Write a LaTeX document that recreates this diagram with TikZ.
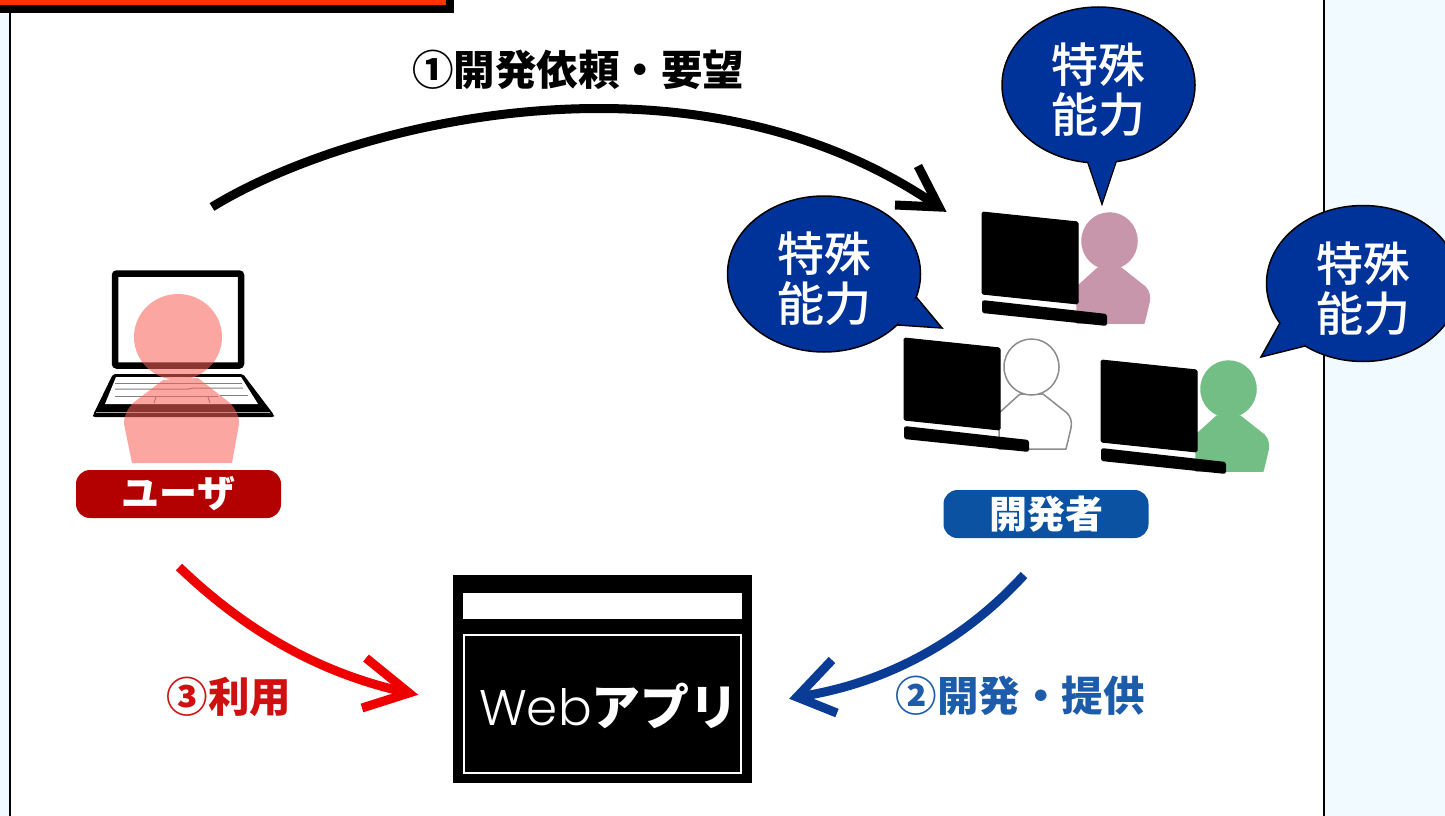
\documentclass[tikz,border=0pt]{standalone}
\usepackage{fontspec}
\usetikzlibrary{shapes.geometric}
\newfontfamily\cjk{Noto Sans CJK JP}
\newfontfamily\cjkmed{Noto Sans CJK JP Medium}
\newfontfamily\webfont{Poppins Light}
\definecolor{panelblue}{HTML}{F0FAFF}
\definecolor{bubbleblue}{HTML}{003399}
\definecolor{pillred}{HTML}{B30000}
\definecolor{pillblue}{HTML}{0B52A2}
\definecolor{barorange}{HTML}{FF3300}
\definecolor{arrowred}{HTML}{EE0000}
\definecolor{arrowblue}{HTML}{0A3C96}
\definecolor{labelred}{HTML}{D01010}
\definecolor{labelblue}{HTML}{1C5CAA}
\definecolor{personpink}{HTML}{C796AA}
\definecolor{persongreen}{HTML}{73BE85}
\definecolor{userred}{RGB}{250,98,90}
\tikzset{
  bubble/.style={ellipse,draw=black,fill=bubbleblue,line width=1.5pt,minimum width=193pt,minimum height=156pt,inner sep=0pt},
  bubbletext/.style={inner sep=0pt,text=white,align=center,font=\cjkmed\fontsize{47}{50}\selectfont},
  tailstroke/.style={draw=black,fill=bubbleblue,line width=1.5pt,line join=miter},
  tailfill/.style={fill=bubbleblue},
  pill/.style={rounded corners=14pt,minimum width=205pt,minimum height=48pt,inner sep=0pt,text=white,font=\cjk\bfseries\fontsize{38}{38}\selectfont},
  flow/.style={line width=9pt,line join=miter},
  caption/.style={inner sep=0pt,font=\cjk\bfseries\fontsize{41.5}{41.5}\selectfont},
  monitor/.style={fill=black,draw=black,line width=1pt,line join=round,rounded corners=1.5pt},
  kbd/.style={fill=black,rounded corners=2.5pt},
  keyline/.style={draw=black!50,line width=1pt},
}
\newcommand{\deskset}[4]{%
  \begin{scope}[shift={(#1,#2)}]
    \path[fill=#3,draw=#4,line width=1.5pt,line join=round]
      (95,75) -- (116,56) -- (139,56) -- (163,75)
      .. controls (167,79) and (168,84) .. (167,90) -- (162,111) -- (95,111) -- cycle;
    \path[fill=#3,draw=#4,line width=1.5pt] (127.5,29) ellipse[x radius=27.5,y radius=28];
    \path[monitor] (0,0) -- (96,10) -- (96,92) -- (0,82) -- cycle;
    \path[kbd] (0,88) -- (125,102) -- (125,114) -- (0,101) -- cycle;
  \end{scope}}
\begin{document}
\begin{tikzpicture}[x=1pt,y=-1pt]
\useasboundingbox (0,0) rectangle (1445,816);
\fill[white] (0,0) rectangle (1445,816);
% side panels and frame
\fill[panelblue] (0,0) rectangle (10,816);
\fill[panelblue] (1324,0) rectangle (1445,816);
\draw[black,line width=2pt] (10,13) -- (10,816);
\draw[black,line width=2pt] (1324,0) -- (1324,816);
\fill[black] (0,0) rectangle (454,13);
\fill[barorange] (0,0) rectangle (446,5);
% user: laptop
\draw[black,line width=6.5pt,rounded corners=2pt,fill=white] (115,273.5) rectangle (241,365.5);
\fill[black,rounded corners=2pt] (113,374) -- (243,374) -- (274,415) -- (274,417) -- (93,417) -- (93,415) -- cycle;
\fill[white] (116,377) -- (241,377) -- (258,404) -- (105,404) -- cycle;
\draw[keyline] (115,383) -- (242,383);
\draw[keyline] (115,389) -- (188,389) -- (194,388) -- (243,388);
\draw[keyline] (115,396) -- (218,396) (220,395) -- (248,395);
\draw[keyline] (156,397) -- (154,403) (208,397) -- (210,403);
\draw[black!35,line width=.7pt] (96,412) -- (270,412);
% user: person
\path[fill=userred,fill opacity=.56] (178,337) ellipse[x radius=44,y radius=43]
  (163,380) -- (198,378) -- (230,403) .. controls (236,410) and (239,415) .. (239,424) -- (232,463) -- (132,463) -- (124,424) .. controls (124,415) and (127,410) .. (133,403) -- cycle;
\node[pill,fill=pillred] (user) at (178.5,494) {ユーザ};
% developers
\deskset{982}{212}{personpink}{personpink}
\deskset{904}{338}{white}{black!45}
\deskset{1101}{360}{persongreen}{persongreen}
\node[pill,fill=pillblue] (dev) at (1046,514) {開発者};
% bubbles
\path[tailstroke] (1087,160) -- (1102,204) -- (1118,156) -- cycle;
\node[bubble] (b1) at (1098.5,85) {};
\path[tailfill] (1087,158) -- (1102,202) -- (1118,154) -- cycle;
\node[bubbletext] (b1t) at ([yshift=-5pt]b1.center) {特殊\\能力};
\path[tailstroke] (917,298) -- (942,328) -- (898,325) -- cycle;
\node[bubble] (b2) at (824,274) {};
\path[tailfill] (916,298) -- (939,327) -- (898,324) -- cycle;
\node[bubbletext] (b2t) at ([yshift=-5pt]b2.center) {特殊\\能力};
\path[tailstroke] (1280,323) -- (1261,357) -- (1305,346) -- cycle;
\node[bubble] (b3) at (1363,283.5) {};
\path[tailfill] (1281,323) -- (1264,355) -- (1305,345) -- cycle;
\node[bubbletext] (b3t) at ([yshift=-5pt]b3.center) {特殊\\能力};
% web app window
\node[fill=black,minimum width=299pt,minimum height=208pt,inner sep=0pt] (app) at (602.5,679) {};
\fill[white] (463,593) rectangle (742,619);
\draw[white,line width=1.5pt] (464,635) rectangle (741,773);
\node[inner sep=0pt,text=white,anchor=center] (applabel) at (609,706) {\webfont\fontsize{50}{50}\selectfont Web\cjk\bfseries\fontsize{49}{49}\selectfont アプリ};
% connectors
\coordinate (a1s) at (212,207);
\coordinate (a1e) at (939,207);
\coordinate (a1l) at (895,205);
\coordinate (a1u) at (918,166);
\draw[flow,black] (a1s) .. controls (345,125) and (690,34) .. (a1e);
\draw[flow,black] (a1l) -- (a1e) -- (a1u);
\coordinate (a3s) at (179,567);
\coordinate (a3e) at (409,693);
\coordinate (a3l) at (366,658);
\coordinate (a3u) at (362,708);
\draw[flow,arrowred] (a3s) .. controls (250,635) and (325,675) .. (a3e);
\draw[flow,arrowred] (a3l) -- (a3e) -- (a3u);
\coordinate (a2s) at (1024,575);
\coordinate (a2e) at (797,697);
\coordinate (a2l) at (832,660);
\coordinate (a2u) at (837,713);
\draw[flow,arrowblue] (a2s) .. controls (960,645) and (880,685) .. (a2e);
\draw[flow,arrowblue] (a2l) -- (a2e) -- (a2u);
% captions
\node[caption,text=black] (c1) at (578,70) {①開発依頼・要望};
\node[caption,text=labelred] (c3) at (229,697) {③利用};
\node[caption,text=labelblue] (c2) at (1020,696) {②開発・提供};
\end{tikzpicture}
\end{document}
